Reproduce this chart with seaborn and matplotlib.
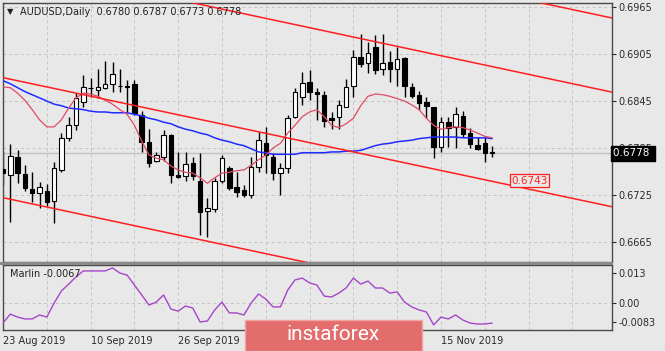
import pandas as pd
import seaborn as sns
import matplotlib.pyplot as plt
from matplotlib.patches import Rectangle

# daily AUDUSD bars, 23 Aug 2019 .. 26 Nov 2019
opens = [0.6758, 0.6751, 0.6774, 0.6752, 0.6733, 0.6728, 0.6730, 0.6717, 0.6757, 0.6798,
         0.6814, 0.6844, 0.6862, 0.6859, 0.6862, 0.6867, 0.6864, 0.6864, 0.6867, 0.6827,
         0.6793, 0.6768, 0.6774, 0.6802, 0.6751, 0.6749, 0.6766, 0.6743, 0.6705, 0.6707,
         0.6743, 0.6760, 0.6735, 0.6731, 0.6725, 0.6761, 0.6791, 0.6774, 0.6753, 0.6760,
         0.6825, 0.6850, 0.6869, 0.6857, 0.6853, 0.6823, 0.6825, 0.6837, 0.6864, 0.6901,
         0.6893, 0.6914, 0.6886, 0.6895, 0.6886, 0.6900, 0.6863, 0.6853, 0.6844, 0.6837,
         0.6786, 0.6818, 0.6812, 0.6826, 0.6804, 0.6789, 0.6791, 0.6780]
highs = [0.6780, 0.6790, 0.6782, 0.6763, 0.6754, 0.6742, 0.6739, 0.6767, 0.6804, 0.6825,
         0.6855, 0.6878, 0.6874, 0.6886, 0.6896, 0.6895, 0.6886, 0.6872, 0.6872, 0.6832,
         0.6809, 0.6780, 0.6808, 0.6803, 0.6780, 0.6780, 0.6774, 0.6779, 0.6721, 0.6747,
         0.6776, 0.6762, 0.6754, 0.6738, 0.6774, 0.6806, 0.6812, 0.6779, 0.6766, 0.6827,
         0.6862, 0.6882, 0.6885, 0.6862, 0.6858, 0.6831, 0.6846, 0.6873, 0.6910, 0.6931,
         0.6920, 0.6929, 0.6931, 0.6909, 0.6914, 0.6901, 0.6868, 0.6858, 0.6850, 0.6837,
         0.6825, 0.6825, 0.6837, 0.6832, 0.6810, 0.6799, 0.6799, 0.6787]
lows = [0.6738, 0.6690, 0.6740, 0.6730, 0.6716, 0.6708, 0.6711, 0.6689, 0.6754, 0.6794,
        0.6808, 0.6837, 0.6850, 0.6849, 0.6860, 0.6856, 0.6856, 0.6831, 0.6827, 0.6780,
        0.6761, 0.6767, 0.6768, 0.6740, 0.6747, 0.6743, 0.6744, 0.6674, 0.6671, 0.6703,
        0.6740, 0.6731, 0.6723, 0.6723, 0.6721, 0.6754, 0.6753, 0.6744, 0.6725, 0.6753,
        0.6823, 0.6840, 0.6846, 0.6821, 0.6812, 0.6809, 0.6809, 0.6837, 0.6850, 0.6888,
        0.6881, 0.6880, 0.6878, 0.6869, 0.6864, 0.6850, 0.6849, 0.6834, 0.6823, 0.6772,
        0.6780, 0.6786, 0.6785, 0.6799, 0.6785, 0.6782, 0.6767, 0.6773]
closes = [0.6753, 0.6775, 0.6753, 0.6734, 0.6728, 0.6735, 0.6716, 0.6760, 0.6798, 0.6814,
          0.6849, 0.6863, 0.6861, 0.6863, 0.6867, 0.6880, 0.6864, 0.6863, 0.6830, 0.6793,
          0.6766, 0.6776, 0.6802, 0.6751, 0.6748, 0.6765, 0.6749, 0.6703, 0.6708, 0.6743,
          0.6772, 0.6734, 0.6729, 0.6725, 0.6761, 0.6795, 0.6776, 0.6753, 0.6760, 0.6823,
          0.6857, 0.6868, 0.6857, 0.6854, 0.6819, 0.6821, 0.6840, 0.6863, 0.6901, 0.6892,
          0.6906, 0.6885, 0.6893, 0.6886, 0.6899, 0.6864, 0.6851, 0.6843, 0.6839, 0.6786,
          0.6818, 0.6811, 0.6828, 0.6803, 0.6790, 0.6784, 0.6779, 0.6778]

# moving averages as drawn on the chart
ma_fast = [0.6863, 0.6862, 0.6855, 0.6846, 0.6834, 0.6821, 0.6812, 0.6812, 0.6821, 0.6836,
           0.6849, 0.6855, 0.6854, 0.6851, 0.6846, 0.6841, 0.6834, 0.6828, 0.6814, 0.6794,
           0.6776, 0.6772, 0.6770, 0.6762, 0.6757, 0.6754, 0.6753, 0.6747, 0.6740, 0.6747,
           0.6753, 0.6754, 0.6756, 0.6757, 0.6763, 0.6770, 0.6776, 0.6785, 0.6791, 0.6804,
           0.6814, 0.6825, 0.6831, 0.6834, 0.6825, 0.6814, 0.6811, 0.6816, 0.6823, 0.6839,
           0.6851, 0.6854, 0.6853, 0.6851, 0.6848, 0.6845, 0.6840, 0.6834, 0.6823, 0.6814,
           0.6809, 0.6811, 0.6812, 0.6811, 0.6808, 0.6804, 0.6800, 0.6798]
ma_slow = [0.6871, 0.6867, 0.6862, 0.6857, 0.6853, 0.6849, 0.6845, 0.6841, 0.6839, 0.6836,
           0.6835, 0.6834, 0.6832, 0.6831, 0.6831, 0.6830, 0.6830, 0.6830, 0.6828, 0.6826,
           0.6823, 0.6821, 0.6818, 0.6816, 0.6812, 0.6809, 0.6807, 0.6804, 0.6802, 0.6798,
           0.6795, 0.6793, 0.6790, 0.6788, 0.6784, 0.6780, 0.6779, 0.6777, 0.6777, 0.6777,
           0.6777, 0.6779, 0.6779, 0.6779, 0.6779, 0.6780, 0.6780, 0.6781, 0.6781, 0.6782,
           0.6785, 0.6788, 0.6790, 0.6791, 0.6793, 0.6794, 0.6795, 0.6797, 0.6798, 0.6799,
           0.6799, 0.6799, 0.6799, 0.6798, 0.6798, 0.6798, 0.6798, 0.6797]

marlin = [-0.0087, -0.0048, -0.0061, -0.0069, -0.0069, -0.0052, -0.0061, 0.0000, 0.0052, 0.0082,
          0.0113, 0.0139, 0.0139, 0.0139, 0.0139, 0.0152, 0.0130, 0.0121, 0.0078, 0.0035,
          -0.0009, 0.0004, 0.0035, -0.0026, -0.0035, -0.0013, -0.0022, -0.0082, -0.0078, -0.0030,
          0.0004, -0.0043, -0.0043, -0.0052, 0.0000, 0.0039, 0.0017, -0.0017, -0.0017, 0.0056,
          0.0100, 0.0108, 0.0087, 0.0078, 0.0030, 0.0026, 0.0043, 0.0065, 0.0108, 0.0082,
          0.0095, 0.0065, 0.0065, 0.0043, 0.0048, 0.0004, -0.0017, -0.0030, -0.0039, -0.0095,
          -0.0061, -0.0069, -0.0052, -0.0074, -0.0087, -0.0091, -0.0091, -0.0087]

# date labels visible on the time axis (October ones sit under the watermark)
date_bars = [0, 12, 24, 60]
date_labels = ["23 Aug 2019", "10 Sep 2019", "26 Sep 2019", "15 Nov 2019"]
price_ticks = [0.6965, 0.6905, 0.6845, 0.6785, 0.6725, 0.6665]
marlin_ticks = [0.013, 0.0, -0.0083]
marlin_labels = ["0.013", "0.00", "-0.0083"]

# red channel lines, price at bar -1 and bar 84
channel_x = [-1, 84]
channel_a = [0.71186, 0.69498]
channel_b = [0.70239, 0.68552]
channel_c = [0.68768, 0.67089]
channel_d = [0.67236, 0.65548]

last_price = 0.6778
channel_level = 0.6743
title = "AUDUSD,Daily  0.6780 0.6787 0.6773 0.6778"
marlin_title = "Marlin -0.0067"

bg = "#e8e8e8"
grid_col = "#c3c3c3"

sns.set_theme(style="white", rc={"axes.facecolor": bg, "figure.facecolor": bg})
plt.rcParams["font.family"] = ["DejaVu Sans"]

df = pd.DataFrame({"bar": range(len(closes)), "open": opens, "high": highs, "low": lows,
                   "close": closes, "ma_fast": ma_fast, "ma_slow": ma_slow, "marlin": marlin})

W, H = 665, 351
fig = plt.figure(figsize=(W / 100, H / 100), dpi=100)
ax = fig.add_axes([3 / W, 1 - 262 / H, 609 / W, 259 / H])
ax2 = fig.add_axes([3 / W, 1 - 330 / H, 609 / W, 65 / H])

xmax = 609 / 7.3
for a in (ax, ax2):
    a.set_xlim(0, xmax)
    for s in a.spines.values():
        s.set_color("#4a4a4a")
        s.set_linewidth(1)
    for b in range(0, 84, 6):
        a.axvline(b, color=grid_col, lw=0.7, ls=(0, (3, 3)), zorder=0)

ax.set_ylim(0.66395, 0.69701)
ax2.set_ylim(-0.0117, 0.01647)

for p in price_ticks:
    ax.axhline(p, color=grid_col, lw=0.7, ls=(0, (3, 3)), zorder=0)
ax2.axhline(0, color=grid_col, lw=0.7, ls=(0, (3, 3)), zorder=0)

# bid line
ax.axhline(last_price, color="#c2c2c2", lw=1, zorder=1)

# candles
up = df["close"] >= df["open"]
ax.vlines(df["bar"], df["low"], df["high"], color="black", lw=1, zorder=2)
body_lo = df[["open", "close"]].min(axis=1)
body_h = (df["close"] - df["open"]).abs().clip(lower=0.000005)
ax.bar(df["bar"], body_h, bottom=body_lo, width=0.62,
       color=["white" if u else "black" for u in up], edgecolor="black", linewidth=0.8, zorder=3)

# moving averages
sns.lineplot(data=df, x="bar", y="ma_slow", ax=ax, color="#1f2cff", lw=1.1, zorder=4)
sns.lineplot(data=df, x="bar", y="ma_fast", ax=ax, color="#e24a63", lw=0.9, zorder=4)

# channel
for ch in (channel_a, channel_b, channel_c, channel_d):
    sns.lineplot(x=channel_x, y=ch, ax=ax, color="#ff1f1f", lw=1.1, zorder=5)

# marlin oscillator
sns.lineplot(data=df, x="bar", y="marlin", ax=ax2, color="#a646c8", lw=1.0, zorder=4)

for a in (ax, ax2):
    a.set_xlabel("")
    a.set_ylabel("")
    a.yaxis.tick_right()
    a.tick_params(axis="y", length=3, width=0.8, pad=1.5, labelsize=7, colors="#2a2a2a", direction="out")

ax.set_yticks(price_ticks, labels=[f"{p:.4f}" for p in price_ticks])
ax.set_xticks([])
ax2.set_yticks(marlin_ticks, labels=marlin_labels)
ax2.set_xticks(date_bars, labels=date_labels)
ax2.tick_params(axis="x", length=2.5, width=0.8, pad=1.5, labelsize=7, colors="#2a2a2a", direction="out")
for lbl in ax2.get_xticklabels():
    lbl.set_ha("left")

# current price label on the scale (covers the 0.6785 tick label as in the terminal)
ax.text(1.002, last_price, "0.6778 ", transform=ax.get_yaxis_transform(), ha="left", va="center",
        fontsize=7.5, color="white", clip_on=False, zorder=10,
        bbox=dict(boxstyle="square,pad=0.25", fc="black", ec="black"))

# channel value label
ax.text(69.6, channel_level, f"{channel_level:.4f}", ha="left", va="center",
        fontsize=7.5, color="#ff2020", zorder=10,
        bbox=dict(boxstyle="square,pad=0.15", fc=bg, ec="#ff2020", lw=0.9))

# titles
fig.text(7 / W, 1 - 12 / H, "\u25bc", fontsize=6, color="#202020", va="center")
fig.text(20 / W, 1 - 12 / H, title, fontsize=7, color="#202020", va="center")
ax2.text(7 / 609, 1 - (274 - 265) / 65, marlin_title, transform=ax2.transAxes, ha="left", va="center",
         fontsize=7, color="#202020", zorder=10)

# pane separator
fig.add_artist(Rectangle((0, 1 - 265 / H), 613 / W, 3 / H, transform=fig.transFigure,
                         fc="#8a8a8a", ec="none", zorder=5))

# watermark
fig.add_artist(Rectangle((245 / W, 0), 177 / W, 31 / H, transform=fig.transFigure,
                         fc="#e36c6c", ec="#f2a4a4", lw=1, zorder=6))
fig.text(333 / W, 1 - 335 / H, "instaforex", fontsize=15, color="white", ha="center", va="center",
         family=["Roboto", "DejaVu Sans"], zorder=7)

fig.savefig("out.png", dpi=100, facecolor=bg)
